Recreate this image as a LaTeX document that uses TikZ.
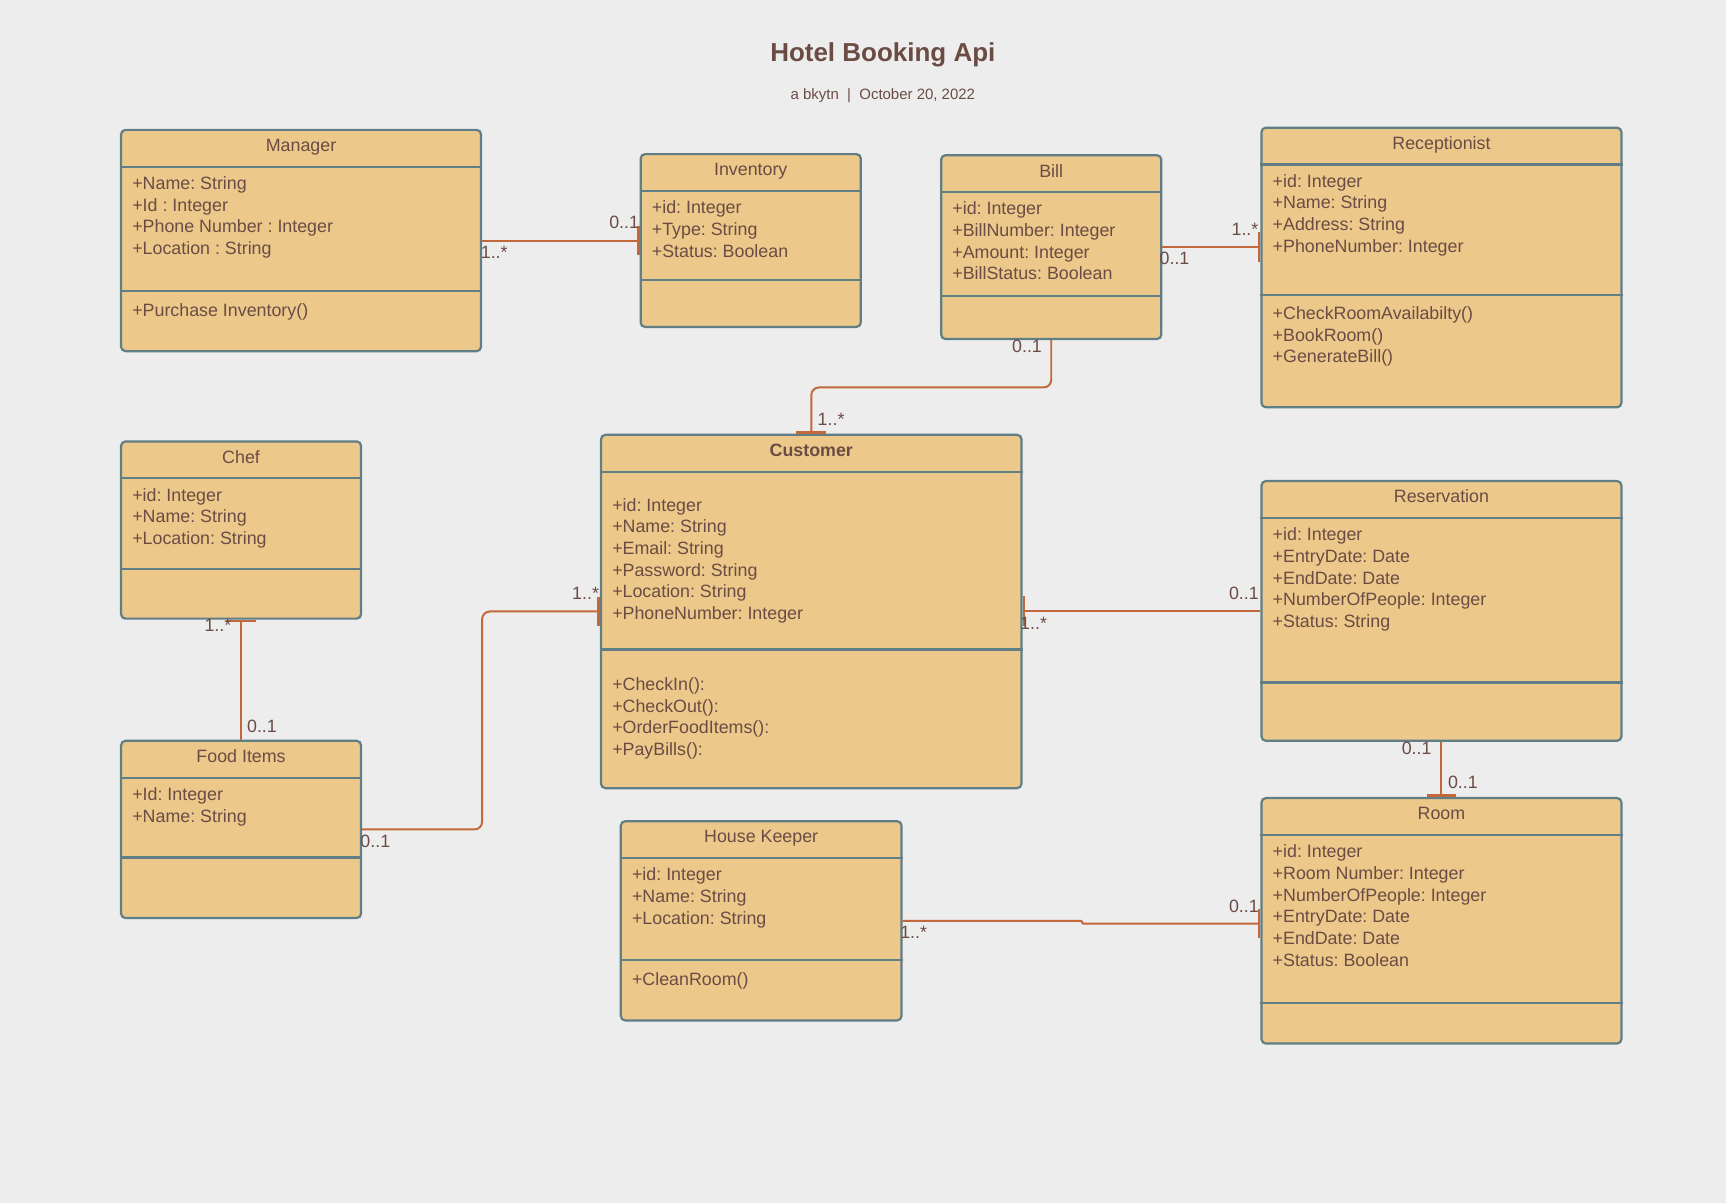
\documentclass[tikz,border=0pt]{standalone}
\usepackage{fontspec}
\setmainfont{Liberation Sans}
\frenchspacing
\usetikzlibrary{positioning,arrows.meta}
\definecolor{bgcol}{HTML}{EDEDED}
\definecolor{boxfill}{HTML}{ECC88A}
\definecolor{boxline}{HTML}{5F7E86}
\definecolor{txtcol}{HTML}{6B4C45}
\definecolor{linkcol}{HTML}{C2683A}
\tikzset{
  classbox/.style={draw=boxline, line width=2pt, fill=boxfill, rounded corners=4pt, anchor=north west, inner sep=0pt},
  divider/.style={draw=boxline, line width=2pt},
  classname/.style={anchor=base, text=txtcol, inner sep=0pt, font=\fontsize{16.2}{19.7}\selectfont},
  members/.style={anchor=north west, align=left, inner sep=0pt, text=txtcol, font=\fontsize{16.2}{19.7}\selectfont, execute at begin node=\strut},
  link/.style={draw=linkcol, line width=1.8pt, rounded corners=7pt},
  barend/.style={-{Bar[width=27pt, line width=2.4pt]}},
  mult/.style={text=txtcol, inner sep=0pt, font=\fontsize{16.2}{19.7}\selectfont}
}
\begin{document}
\begin{tikzpicture}[x=1pt, y=-1pt]

    % Background
    \fill[bgcol] (0,0) rectangle (1568,1093);
    \useasboundingbox (0,0) rectangle (1568,1093);

    % Heading
    \node[anchor=base, text=txtcol, font=\bfseries\fontsize{23.6}{28}\selectfont] (heading) at (802,55.5) {Hotel Booking Api};
    \node[anchor=base, text=txtcol, font=\fontsize{13.6}{16}\selectfont] (byline) at (802,90) {a bkytn~~|~~October 20, 2022};

    % Manager
    \node[classbox, minimum width=327pt, minimum height=201pt] (manager) at (109,117) {};
    \draw[divider] ([yshift=-34.5pt]manager.north west) -- ([yshift=-34.5pt]manager.north east);
    \draw[divider] ([yshift=-147pt]manager.north west) -- ([yshift=-147pt]manager.north east);
    \node[classname] (managername) at ([yshift=-20.8pt]manager.north) {Manager};
    \node[members] (managerattr) at ([xshift=11pt,yshift=-43.2pt]manager.north west) {+Name: String\\+Id : Integer\\+Phone Number : Integer\\+Location : String};
    \node[members] (managerops) at ([xshift=11pt,yshift=-156.4pt]manager.north west) {+Purchase Inventory()};

    % Inventory
    \node[classbox, minimum width=200pt, minimum height=157pt] (inventory) at (581,139) {};
    \draw[divider] ([yshift=-34.5pt]inventory.north west) -- ([yshift=-34.5pt]inventory.north east);
    \draw[divider] ([yshift=-115pt]inventory.north west) -- ([yshift=-115pt]inventory.north east);
    \node[classname] (inventoryname) at ([yshift=-20.8pt]inventory.north) {Inventory};
    \node[members] (inventoryattr) at ([xshift=11pt,yshift=-43.2pt]inventory.north west) {+id: Integer\\+Type: String\\+Status: Boolean};

    % Bill
    \node[classbox, minimum width=200pt, minimum height=167pt] (bill) at (854,140) {};
    \draw[divider] ([yshift=-34.5pt]bill.north west) -- ([yshift=-34.5pt]bill.north east);
    \draw[divider] ([yshift=-129pt]bill.north west) -- ([yshift=-129pt]bill.north east);
    \node[classname] (billname) at ([yshift=-20.8pt]bill.north) {Bill};
    \node[members] (billattr) at ([xshift=11pt,yshift=-43.2pt]bill.north west) {+id: Integer\\+BillNumber: Integer\\+Amount: Integer\\+BillStatus: Boolean};

    % Receptionist
    \node[classbox, minimum width=327pt, minimum height=254pt] (receptionist) at (1145,115) {};
    \draw[divider] ([yshift=-34.5pt]receptionist.north west) -- ([yshift=-34.5pt]receptionist.north east);
    \draw[divider] ([yshift=-153pt]receptionist.north west) -- ([yshift=-153pt]receptionist.north east);
    \node[classname] (receptionistname) at ([yshift=-20.8pt]receptionist.north) {Receptionist};
    \node[members] (receptionistattr) at ([xshift=11pt,yshift=-43.2pt]receptionist.north west) {+id: Integer\\+Name: String\\+Address: String\\+PhoneNumber: Integer};
    \node[members] (receptionistops) at ([xshift=11pt,yshift=-163.4pt]receptionist.north west) {+CheckRoomAvailabilty()\\+BookRoom()\\+GenerateBill()};

    % Chef
    \node[classbox, minimum width=218pt, minimum height=161pt] (chef) at (109,400) {};
    \draw[divider] ([yshift=-34.5pt]chef.north west) -- ([yshift=-34.5pt]chef.north east);
    \draw[divider] ([yshift=-117pt]chef.north west) -- ([yshift=-117pt]chef.north east);
    \node[classname] (chefname) at ([yshift=-20.8pt]chef.north) {Chef};
    \node[members] (chefattr) at ([xshift=11pt,yshift=-43.2pt]chef.north west) {+id: Integer\\+Name: String\\+Location: String};

    % Customer
    \node[classbox, minimum width=382pt, minimum height=321pt] (customer) at (545,394) {};
    \draw[divider] ([yshift=-34.5pt]customer.north west) -- ([yshift=-34.5pt]customer.north east);
    \draw[divider] ([yshift=-196pt]customer.north west) -- ([yshift=-196pt]customer.north east);
    \node[classname, font=\bfseries\fontsize{16.2}{19.7}\selectfont] (customername) at ([yshift=-20.8pt]customer.north) {Customer};
    \node[members] (customerattr) at ([xshift=11pt,yshift=-58.4pt]customer.north west) {+id: Integer\\+Name: String\\+Email: String\\+Password: String\\+Location: String\\+PhoneNumber: Integer};
    \node[members] (customerops) at ([xshift=11pt,yshift=-221.4pt]customer.north west) {+CheckIn():\\+CheckOut():\\+OrderFoodItems():\\+PayBills():};

    % Reservation
    \node[classbox, minimum width=327pt, minimum height=236pt] (reservation) at (1145,436) {};
    \draw[divider] ([yshift=-34.5pt]reservation.north west) -- ([yshift=-34.5pt]reservation.north east);
    \draw[divider] ([yshift=-184pt]reservation.north west) -- ([yshift=-184pt]reservation.north east);
    \node[classname] (reservationname) at ([yshift=-20.8pt]reservation.north) {Reservation};
    \node[members] (reservationattr) at ([xshift=11pt,yshift=-43.2pt]reservation.north west) {+id: Integer\\+EntryDate: Date\\+EndDate: Date\\+NumberOfPeople: Integer\\+Status: String};

    % Food Items
    \node[classbox, minimum width=218pt, minimum height=161pt] (fooditems) at (109,672) {};
    \draw[divider] ([yshift=-34.5pt]fooditems.north west) -- ([yshift=-34.5pt]fooditems.north east);
    \draw[divider] ([yshift=-107pt]fooditems.north west) -- ([yshift=-107pt]fooditems.north east);
    \node[classname] (fooditemsname) at ([yshift=-20.8pt]fooditems.north) {Food Items};
    \node[members] (fooditemsattr) at ([xshift=11pt,yshift=-43.2pt]fooditems.north west) {+Id: Integer\\+Name: String};

    % House Keeper
    \node[classbox, minimum width=255pt, minimum height=181pt] (housekeeper) at (563,745) {};
    \draw[divider] ([yshift=-34.5pt]housekeeper.north west) -- ([yshift=-34.5pt]housekeeper.north east);
    \draw[divider] ([yshift=-127pt]housekeeper.north west) -- ([yshift=-127pt]housekeeper.north east);
    \node[classname] (housekeepername) at ([yshift=-20.8pt]housekeeper.north) {House Keeper};
    \node[members] (housekeeperattr) at ([xshift=11pt,yshift=-43.2pt]housekeeper.north west) {+id: Integer\\+Name: String\\+Location: String};
    \node[members] (housekeeperops) at ([xshift=11pt,yshift=-136.4pt]housekeeper.north west) {+CleanRoom()};

    % Room
    \node[classbox, minimum width=327pt, minimum height=223pt] (room) at (1145,724) {};
    \draw[divider] ([yshift=-34.5pt]room.north west) -- ([yshift=-34.5pt]room.north east);
    \draw[divider] ([yshift=-187pt]room.north west) -- ([yshift=-187pt]room.north east);
    \node[classname] (roomname) at ([yshift=-20.8pt]room.north) {Room};
    \node[members] (roomattr) at ([xshift=11pt,yshift=-43.2pt]room.north west) {+id: Integer\\+Room Number: Integer\\+NumberOfPeople: Integer\\+EntryDate: Date\\+EndDate: Date\\+Status: Boolean};

    % Associations
    \draw[link, barend] (manager.east) -- (inventory.west);
    \draw[link, barend] (bill.east) -- (bill.east -| receptionist.west);
    \draw[link, barend] (bill.south) -- ++(0,43) -| (customer.north);
    \draw[link, barend] (fooditems.north) -- (chef.south);
    \draw[link, barend] (fooditems.east) -- ++(109,0) |- (customer.west);
    \draw[link, barend] (reservation.west) -- (reservation.west -| customer.east);
    \draw[link, barend] (reservation.south) -- (room.north);
    \draw[link, barend, rounded corners=1pt] (housekeeper.east) -- ++(163,0) |- ([yshift=-2.5pt]room.west);

    % Multiplicities
    \node[mult] (mgrmult) at (449,229) {1..*};
    \node[mult] (invmult) at (567,202) {0..1};
    \node[mult] (billrmult) at (1067,235) {0..1};
    \node[mult] (recmult) at (1131,208) {1..*};
    \node[mult] (billcmult) at (933,315) {0..1};
    \node[mult] (custbmult) at (755,381) {1..*};
    \node[mult] (chefmult) at (198,568) {1..*};
    \node[mult] (foodcmult) at (238,660) {0..1};
    \node[mult] (foodumult) at (341,764) {0..1};
    \node[mult] (custfmult) at (532,539) {1..*};
    \node[mult] (resvcmult) at (1130,539) {0..1};
    \node[mult] (custrmult) at (939,566) {1..*};
    \node[mult] (resvrmult) at (1287,680) {0..1};
    \node[mult] (roomrmult) at (1329,711) {0..1};
    \node[mult] (keepmult) at (830,847) {1..*};
    \node[mult] (roomkmult) at (1130,823) {0..1};

\end{tikzpicture}
\end{document}
